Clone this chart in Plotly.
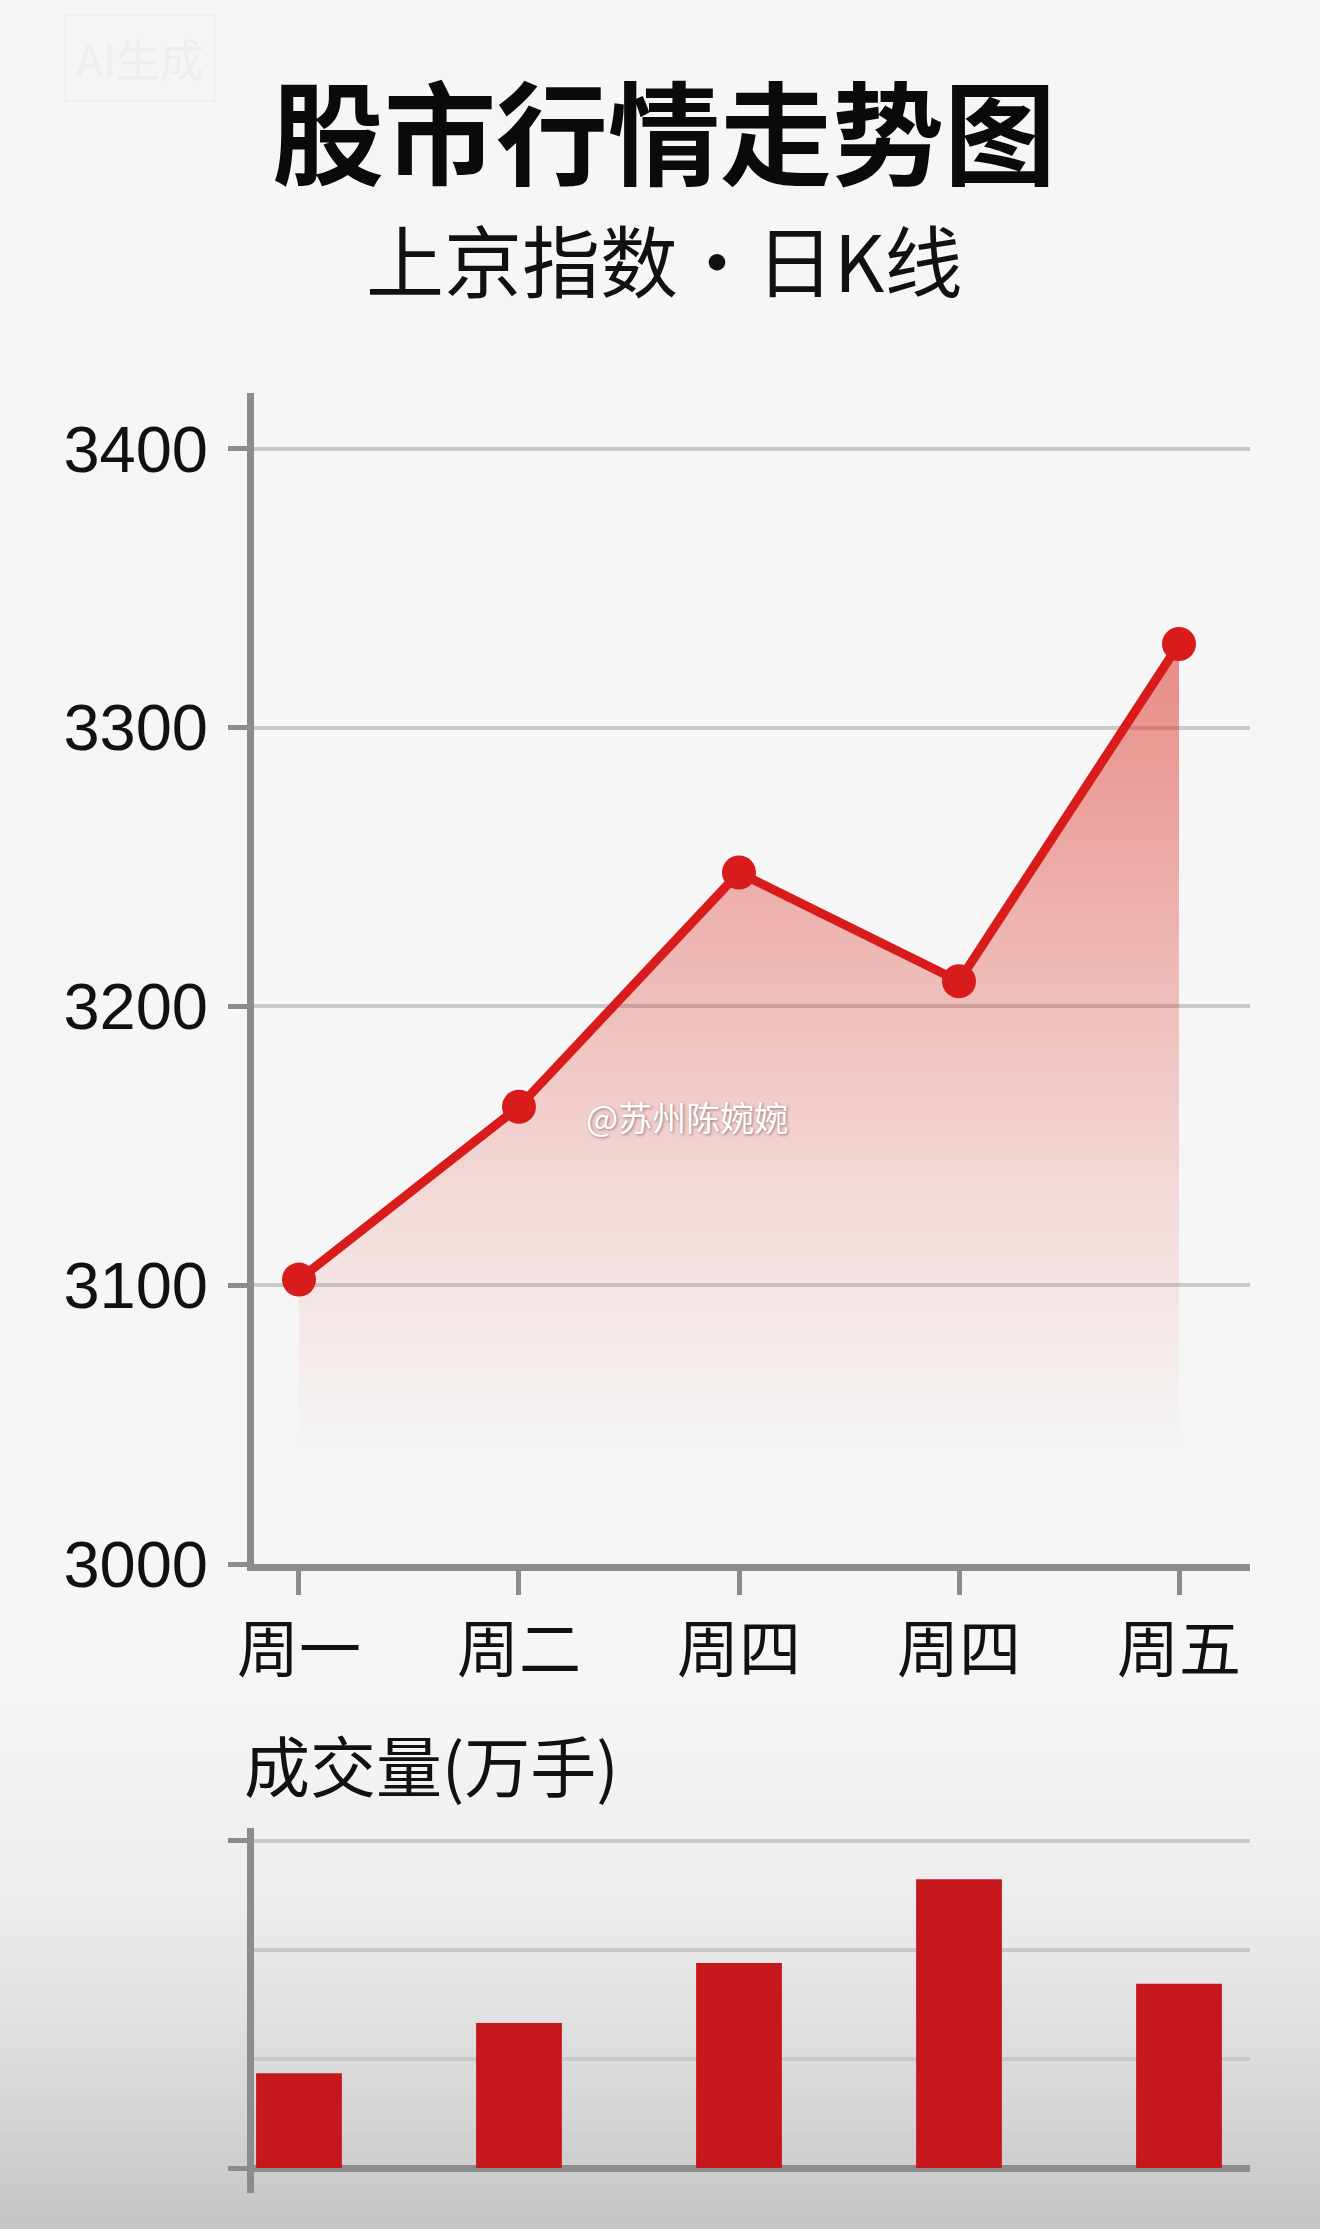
import plotly.graph_objects as go

# ── data ──────────────────────────────────────────────────────────────────────
DAYS = ["周一", "周二", "周四", "周四", "周五"]     # labels as printed (duplicate 周四)
DAY_POS = [0, 1, 2, 3, 4]
INDEX_CLOSE = [3102, 3164, 3248, 3209, 3330]      # 上京指数 daily close
VOLUME = [87, 133, 188, 265, 169]                 # 成交量 (万手)
INDEX_TICKS = [3000, 3100, 3200, 3300, 3400]
VOLUME_TICKS = [0, 300]
VOLUME_MINOR = [100, 200]

# ── style ─────────────────────────────────────────────────────────────────────
W, H = 1320, 2229
RED = "#d81c1c"
BAR_RED = "#c6181c"
AXIS = "#8c8c8c"
GRID = "#c9c9c9"
CJK = "Noto Sans CJK SC"
NUM = "Liberation Sans Narrow, Liberation Sans, Arial, sans-serif"

def px_x(p):
    return p / W

def px_y(p):
    return (H - p) / H

X_RANGE = [-0.2045, 4.3227]
X_DOMAIN = [px_x(254), px_x(1250)]

fig = go.Figure()

# index line with fading area
fig.add_trace(go.Scatter(
    x=DAY_POS, y=INDEX_CLOSE,
    mode="lines+markers",
    line=dict(color=RED, width=9),
    marker=dict(size=34, color=RED),
    fill="tozeroy",
    fillgradient=dict(
        type="vertical",
        start=3040, stop=3330,
        colorscale=[[0, "rgba(225,70,60,0)"],
                    [0.3, "rgba(225,70,60,0.15)"],
                    [1, "rgba(222,60,50,0.58)"]],
    ),
    xaxis="x", yaxis="y",
    hovertemplate="%{y}<extra></extra>",
    showlegend=False,
))

# volume bars
fig.add_trace(go.Bar(
    x=DAY_POS, y=VOLUME,
    width=0.39,
    marker=dict(color=BAR_RED, line=dict(width=0)),
    xaxis="x2", yaxis="y2",
    hovertemplate="%{y} 万手<extra></extra>",
    showlegend=False,
))

# soft grey vignette at the bottom of the page
stops = [(1700, 246), (1900, 237), (2050, 221), (2229, 197)]
shapes = []
n = 60
for i in range(n):
    y0 = 1700 + (H - 1700) * i / n
    y1 = 1700 + (H - 1700) * (i + 1) / n
    ym = (y0 + y1) / 2
    for (a, ga), (b, gb) in zip(stops, stops[1:]):
        if a <= ym <= b:
            g = round(ga + (gb - ga) * (ym - a) / (b - a))
            break
    shapes.append(dict(
        type="rect", xref="paper", yref="paper",
        x0=0, x1=1, y0=px_y(y1) - 0.0005, y1=px_y(y0),
        fillcolor=f"rgb({g},{g},{g})", line=dict(width=0), layer="below",
    ))

fig.update_layout(
    width=W, height=H,
    margin=dict(l=0, r=0, t=0, b=0, pad=0, autoexpand=False),
    paper_bgcolor="#f6f6f6",
    plot_bgcolor="rgba(0,0,0,0)",
    shapes=shapes,
    xaxis=dict(
        domain=X_DOMAIN, range=X_RANGE, anchor="y", automargin=False,
        tickvals=DAY_POS, ticktext=DAYS,
        ticks="outside", ticklen=24, tickwidth=5, tickcolor=AXIS,
        ticklabelstandoff=3,
        tickfont=dict(family=CJK, size=62, color="#111111"),
        showline=True, linecolor=AXIS, linewidth=7,
        showgrid=False, zeroline=False,
    ),
    yaxis=dict(
        domain=[px_y(1564), px_y(393)], range=[3000, 3420], anchor="x",
        automargin=False,
        tickvals=INDEX_TICKS,
        ticks="outside", ticklen=19, tickwidth=5, tickcolor=AXIS,
        ticklabelstandoff=7,
        tickfont=dict(family=NUM, size=65, color="#111111"),
        showline=True, linecolor=AXIS, linewidth=7,
        showgrid=True, gridcolor=GRID, gridwidth=4,
        zeroline=False,
    ),
    xaxis2=dict(
        domain=X_DOMAIN, range=X_RANGE, anchor="y2", automargin=False,
        showticklabels=False, ticks="", showline=False,
        showgrid=False, zeroline=False,
    ),
    yaxis2=dict(
        domain=[px_y(2193), px_y(1828)], range=[-22.9, 311.9], anchor="x2",
        automargin=False,
        tickvals=VOLUME_TICKS, showticklabels=False,
        ticks="outside", ticklen=19, tickwidth=5, tickcolor=AXIS,
        showline=True, linecolor=AXIS, linewidth=7,
        showgrid=True, gridcolor=GRID, gridwidth=4,
        minor=dict(tickvals=VOLUME_MINOR, showgrid=True, gridcolor=GRID,
                   gridwidth=4, ticks=""),
        zeroline=True, zerolinecolor=AXIS, zerolinewidth=7,
    ),
    annotations=[
        dict(text="<b>股市行情走势图</b>", x=px_x(664), y=px_y(128),
             xref="paper", yref="paper", showarrow=False,
             xanchor="center", yanchor="middle",
             font=dict(family=CJK, size=112, color="#0a0a0a")),
        dict(text="上京指数・日K线", x=px_x(664), y=px_y(258),
             xref="paper", yref="paper", showarrow=False,
             xanchor="center", yanchor="middle",
             font=dict(family=CJK, size=78, color="#111111")),
        dict(text="成交量(万手)", x=px_x(242), y=px_y(1763),
             xref="paper", yref="paper", showarrow=False,
             xanchor="left", yanchor="middle",
             font=dict(family=CJK, size=66, color="#111111")),
        dict(text="@苏州陈婉婉", x=px_x(584), y=px_y(1116),
             xref="paper", yref="paper", showarrow=False,
             xanchor="left", yanchor="middle",
             font=dict(family=CJK, size=34, color="#ffffff",
                       shadow="1px 1px 3px rgba(90,60,60,0.6)")),
        dict(text="AI生成", x=px_x(140), y=px_y(58),
             xref="paper", yref="paper", showarrow=False,
             xanchor="center", yanchor="middle",
             bordercolor="#f1f1f1", borderwidth=2, borderpad=10,
             font=dict(family=CJK, size=44, color="#eeeeee")),
    ],
)

fig.write_html("out.html", config={"displayModeBar": False},
               post_script="document.body.style.margin='0';")
